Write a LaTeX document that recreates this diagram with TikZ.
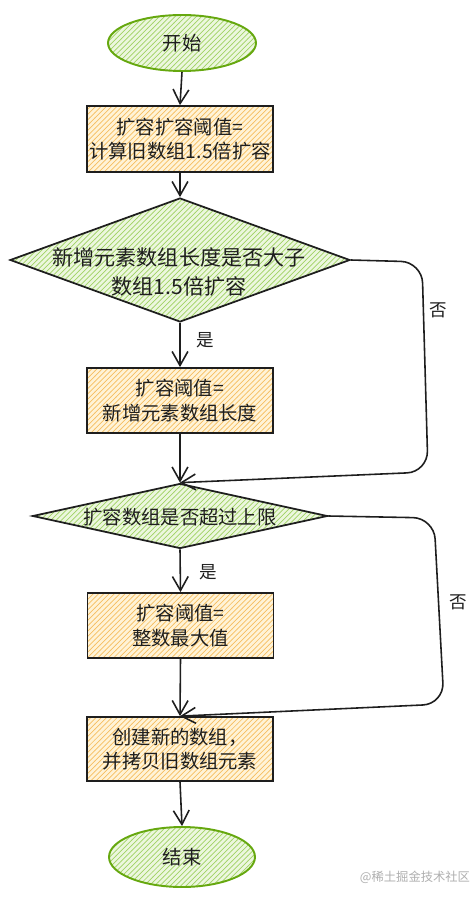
\documentclass[tikz,border=0pt]{standalone}
\usepackage{fontspec}
\newfontfamily\cjk{Noto Sans CJK SC}
\usetikzlibrary{shapes.geometric,patterns,arrows.meta}
\definecolor{ink}{HTML}{1E1E1E}
\definecolor{gstroke}{HTML}{66A80F}
\definecolor{gbg}{RGB}{236,247,222}
\definecolor{ghatch}{RGB}{160,210,100}
\definecolor{obg}{RGB}{255,243,215}
\definecolor{ohatch}{RGB}{246,190,95}
\definecolor{wm}{RGB}{175,175,175}
\tikzset{
  termnode/.style={ellipse, draw=gstroke, line width=1.1pt, inner sep=0pt,
    preaction={fill=gbg}, pattern=north east lines, pattern color=ghatch,
    font=\cjk\fontsize{11}{14}\selectfont, text=ink},
  procbox/.style={rectangle, draw=ink, line width=1pt, inner sep=0pt,
    preaction={fill=obg}, pattern=north east lines, pattern color=ohatch,
    minimum width=3.72cm, align=center,
    font=\cjk\fontsize{11}{14}\selectfont, text=ink},
  decnode/.style={diamond, draw=ink, line width=1pt, inner sep=0pt,
    preaction={fill=gbg}, pattern=north east lines, pattern color=ghatch},
  txt/.style={align=center, text=ink, inner sep=0pt},
  lbl/.style={text=ink, font=\cjk\fontsize{10}{12}\selectfont, inner sep=0pt},
  arr/.style={draw=ink, line width=0.9pt, -{Straight Barb[length=8pt,width=9pt]}},
}
\begin{document}
\begin{tikzpicture}[x=0.02cm, y=-0.02cm]
\useasboundingbox[fill=white] (0,0) rectangle (475,898);

% start
\node[termnode, minimum width=2.96cm, minimum height=1.12cm] (s) at (182,43) {开始};
% box 1
\node[procbox, minimum height=1.32cm] (b1) at (180,139) {扩容扩容阈值=\\计算旧数组1.5倍扩容};
% decision 1
\node[decnode, minimum width=6.8cm, minimum height=2.48cm] (d1) at (180,260) {};
\node[txt, font=\cjk\fontsize{12}{16.5}\selectfont] (d1t) at (179,272) {新增元素数组长度是否大子\\数组1.5倍扩容};
% box 2
\node[procbox, minimum height=1.3cm] (b2) at (180,400.5) {扩容阈值=\\新增元素数组长度};
% decision 2
\node[decnode, minimum width=5.9cm, minimum height=1.3cm] (d2) at (180,516) {};
\node[txt, font=\cjk\fontsize{11}{14}\selectfont] (d2t) at (180,517) {扩容数组是否超过上限};
% box 3
\node[procbox, minimum height=1.3cm] (b3) at (180.5,625.5) {扩容阈值=\\整数最大值};
% box 4
\node[procbox, minimum height=1.28cm] (b4) at (180,749) {创建新的数组，\\并拷贝旧数组元素};
% end
\node[termnode, minimum width=2.92cm, minimum height=1.2cm] (e) at (182,857) {结束};

% connectors
\draw[arr] (s.south) -- (b1.north);
\draw[arr] (b1.south) -- (d1.north);
\draw[arr] (d1.south) -- (b2.north);
\node[lbl] (y1) at (205,340) {是};
\draw[arr] (b2.south) -- (d2.north);
\draw[arr, rounded corners=12pt] (d1.east) -- (422,262) -- (428,472) -- (d2.north);
\node[lbl] (n1) at (438,310) {否};
\draw[arr] (d2.south) -- (b3.north);
\node[lbl] (y2) at (208,572) {是};
\draw[arr] (b3.south) -- (b4.north);
\draw[arr, rounded corners=12pt] (d2.east) -- (434,518) -- (444,704) -- (b4.north);
\node[lbl] (n2) at (458,602) {否};
\draw[arr] (b4.south) -- (e.north);

% watermark
\node[text=wm, font=\cjk\fontsize{7}{8}\selectfont, inner sep=0pt] (wmk) at (415,877) {@稀土掘金技术社区};
\end{tikzpicture}
\end{document}
